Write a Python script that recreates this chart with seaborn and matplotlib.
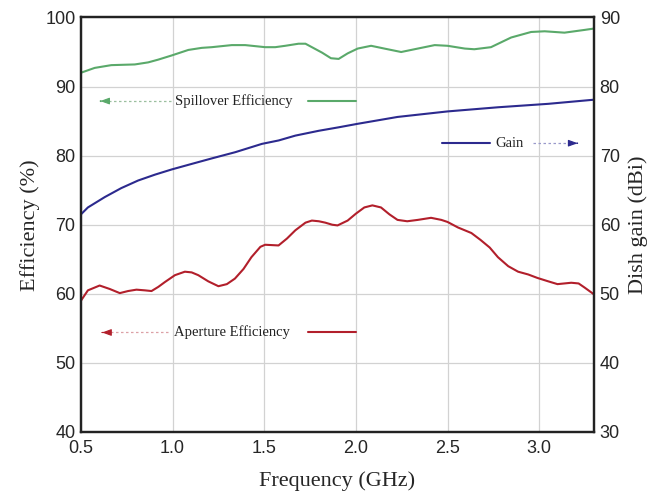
import matplotlib
matplotlib.use("Agg")
import matplotlib.pyplot as plt
import seaborn as sns
import pandas as pd

# Spillover efficiency (%), left axis
spill_freq = [0.50, 0.575, 0.666, 0.794, 0.867, 0.922, 0.995, 1.086, 1.159, 1.214, 1.323, 1.396,
              1.469, 1.505, 1.56, 1.615, 1.687, 1.725, 1.76, 1.816, 1.864, 1.906, 1.955, 2.01,
              2.083, 2.155, 2.247, 2.338, 2.43, 2.50, 2.594, 2.646, 2.737, 2.847, 2.956, 3.03,
              3.138, 3.248, 3.30]
spill_eff = [92.0, 92.7, 93.1, 93.2, 93.5, 93.9, 94.5, 95.3, 95.6, 95.7, 96.0, 96.0,
             95.8, 95.7, 95.7, 95.9, 96.2, 96.2, 95.7, 94.9, 94.1, 94.0, 94.8, 95.5,
             95.9, 95.5, 95.0, 95.5, 96.0, 95.9, 95.5, 95.4, 95.7, 97.1, 97.9, 98.0,
             97.8, 98.2, 98.4]

# Aperture efficiency (%), left axis
aper_freq = [0.50, 0.538, 0.602, 0.657, 0.712, 0.757, 0.803, 0.849, 0.885, 0.922, 0.958, 1.013,
             1.067, 1.104, 1.14, 1.195, 1.25, 1.296, 1.34, 1.387, 1.43, 1.479, 1.505, 1.578,
             1.624, 1.67, 1.725, 1.76, 1.798, 1.833, 1.871, 1.90, 1.955, 2.0, 2.046, 2.09,
             2.137, 2.183, 2.227, 2.28, 2.338, 2.41, 2.466, 2.50, 2.557, 2.63, 2.68, 2.73,
             2.775, 2.831, 2.885, 2.94, 2.99, 3.05, 3.10, 3.175, 3.215, 3.248, 3.30]
aper_eff = [59.0, 60.5, 61.2, 60.7, 60.1, 60.4, 60.6, 60.5, 60.4, 61.0, 61.7, 62.7,
            63.2, 63.1, 62.7, 61.8, 61.1, 61.4, 62.2, 63.6, 65.3, 66.8, 67.1, 67.0,
            68.0, 69.2, 70.3, 70.6, 70.5, 70.3, 70.0, 69.9, 70.6, 71.6, 72.5, 72.8,
            72.5, 71.5, 70.7, 70.5, 70.7, 71.0, 70.7, 70.4, 69.6, 68.8, 67.8, 66.7,
            65.3, 64.0, 63.2, 62.8, 62.3, 61.8, 61.4, 61.6, 61.5, 60.9, 59.9]

# Dish gain (dBi), right axis
gain_freq = [0.50, 0.538, 0.63, 0.72, 0.812, 0.904, 0.995, 1.104, 1.214, 1.342, 1.487, 1.579,
             1.67, 1.798, 1.906, 2.008, 2.227, 2.50, 2.775, 3.05, 3.30]
gain_dbi = [61.5, 62.5, 64.0, 65.3, 66.4, 67.25, 68.0, 68.8, 69.6, 70.5, 71.7, 72.2,
            72.9, 73.6, 74.1, 74.6, 75.6, 76.4, 77.0, 77.5, 78.1]

x_ticks = [0.5, 1.0, 1.5, 2.0, 2.5, 3.0]
left_ticks = [40, 50, 60, 70, 80, 90, 100]
right_ticks = [30, 40, 50, 60, 70, 80, 90]

GREEN = "#5aa96a"
RED = "#b21f2b"
BLUE = "#2c2a8e"

sns.set_style("white")
plt.rcParams["font.family"] = ["Liberation Sans", "DejaVu Sans"]
SERIF = ["Liberation Serif", "DejaVu Serif"]

fig = plt.figure(figsize=(6.58, 4.92), dpi=100)
ax = fig.add_axes([0.123, 0.122, 0.780, 0.8425])
ax2 = ax.twinx()

spill_df = pd.DataFrame({"freq": spill_freq, "eff": spill_eff})
aper_df = pd.DataFrame({"freq": aper_freq, "eff": aper_eff})
gain_df = pd.DataFrame({"freq": gain_freq, "gain": gain_dbi})

line_kw = dict(lw=1.5, solid_joinstyle="round", solid_capstyle="round")
sns.lineplot(data=spill_df, x="freq", y="eff", ax=ax, color=GREEN, **line_kw)
sns.lineplot(data=aper_df, x="freq", y="eff", ax=ax, color=RED, **line_kw)
sns.lineplot(data=gain_df, x="freq", y="gain", ax=ax2, color=BLUE, **line_kw)

ax.set_xlim(0.5, 3.3)
ax.set_ylim(40, 100)
ax2.set_ylim(30, 90)
ax.set_xticks(x_ticks)
ax.set_xticklabels([f"{t:.1f}" for t in x_ticks])
ax.set_yticks(left_ticks)
ax2.set_yticks(right_ticks)

ax.grid(True, color="#d2d2d2", lw=0.9)
ax.set_axisbelow(True)
ax2.grid(False)

for a in (ax, ax2):
    a.tick_params(length=0, labelsize=13, pad=4)
    for s in a.spines.values():
        s.set_color("#222222")
        s.set_linewidth(1.6)
ax.tick_params(axis="x", pad=6)

ax.set_xlabel("Frequency (GHz)", family=SERIF, fontsize=16, labelpad=10)
ax.set_ylabel("Efficiency (%)", family=SERIF, fontsize=16, labelpad=4)
ax2.set_ylabel("Dish gain (dBi)", family=SERIF, fontsize=16, labelpad=6)

HEAD = "-|>,head_length=0.55,head_width=0.2"


def legend_note(axis, y, label, color, dash_color, text_x, arrow_from, arrow_to, line_x0, line_x1):
    # dashed leader toward the axis that the series belongs to
    axis.plot([arrow_from, arrow_to], [y, y], color=dash_color, lw=0.9, ls=(0, (2, 2)))
    step = 0.001 if arrow_from > arrow_to else -0.001
    axis.annotate("", xy=(arrow_to, y), xytext=(arrow_to + step, y),
                  arrowprops=dict(arrowstyle=HEAD, color=color, lw=0.8,
                                  shrinkA=0, shrinkB=0))
    axis.text(text_x, y, label, family=SERIF, fontsize=10.5, va="center", ha="left", color="#222222")
    axis.plot([line_x0, line_x1], [y, y], color=color, lw=1.5)


legend_note(ax, 87.9, "Spillover Efficiency", GREEN, "#9bbf9f", 1.012, 0.99, 0.605, 1.74, 2.0)
legend_note(ax, 54.4, "Aperture Efficiency", RED, "#dca0a6", 1.01, 0.975, 0.615, 1.74, 2.0)
legend_note(ax, 81.8, "Gain", BLUE, "#9a9acb", 2.76, 2.965, 3.21, 2.469, 2.733)

fig.savefig("out.png", dpi=100)
